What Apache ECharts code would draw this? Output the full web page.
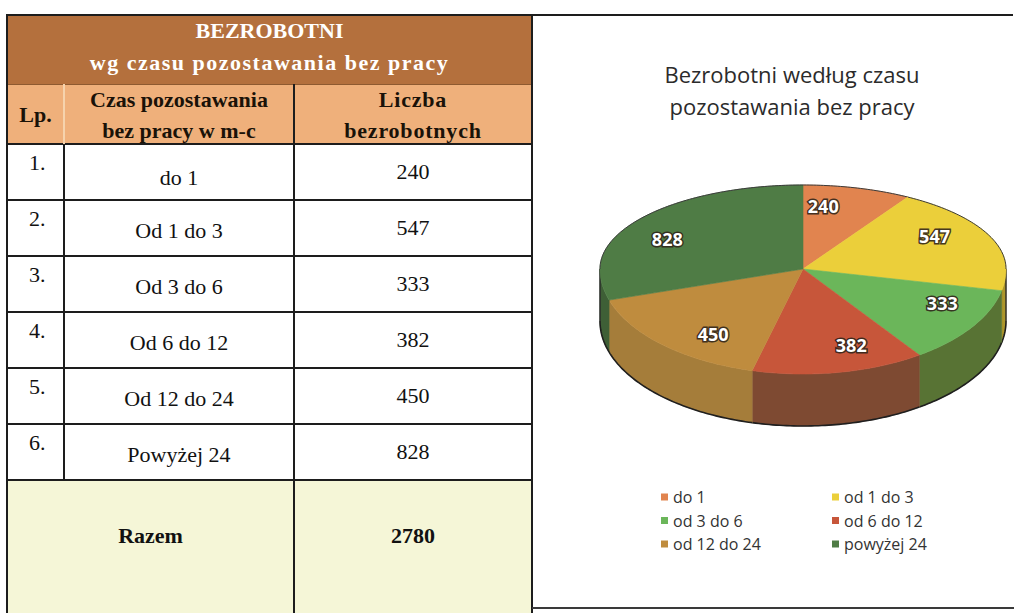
<!DOCTYPE html>
<html lang="pl">
<head>
<meta charset="utf-8">
<title>Bezrobotni według czasu pozostawania bez pracy</title>
<script src="https://cdn.jsdelivr.net/npm/echarts@6/dist/echarts.min.js"></script>
<style>
  html, body { margin: 0; padding: 0; background: #ffffff; overflow: hidden; }
  #chart { position: absolute; left: 0; top: 0; width: 1014px; height: 613px; }
  #table { position: absolute; left: 0; top: 0; width: 1014px; height: 613px;
           font-family: "Liberation Serif", "Times New Roman", serif; color: #111; }
  .cell { position: absolute; box-sizing: border-box; display: flex; align-items: center;
          justify-content: center; text-align: center; font-size: 22px; line-height: 31px; }
  .line { position: absolute; background: #1d1d1d; }
</style>
</head>
<body>
<div id="chart"></div>
<div id="table"></div>
<script>
// Bezrobotni wg czasu pozostawania bez pracy (w miesiącach)
const lpLabels = ['1.', '2.', '3.', '4.', '5.', '6.'];
const tableCategories = ['do 1', 'Od 1 do 3', 'Od 3 do 6', 'Od 6 do 12', 'Od 12 do 24', 'Powyżej 24'];
const legendCategories = ['do 1', 'od 1 do 3', 'od 3 do 6', 'od 6 do 12', 'od 12 do 24', 'powyżej 24'];
const unemployed = [240, 547, 333, 382, 450, 828];
const tableTitle = ['BEZROBOTNI', 'wg czasu pozostawania bez pracy'];
const tableHeaders = ['Lp.', 'Czas pozostawania<br>bez pracy w m-c', 'Liczba<br>bezrobotnych'];
const totalLabel = 'Razem';
const chartTitle = 'Bezrobotni według czasu\npozostawania bez pracy';

const total = unemployed.reduce((a, b) => a + b, 0);

// ---------- table ----------
const tableEl = document.getElementById('table');
const COLX = [7, 64, 294, 532];
const TOP = 15, H_TITLE = 69, H_HEAD = 60, H_ROW = 56;
const yHead = TOP + H_TITLE, yBody = yHead + H_HEAD;
const yTotal = yBody + H_ROW * unemployed.length;

function cell(x0, x1, y0, y1, html, css) {
  const d = document.createElement('div');
  d.className = 'cell';
  d.style.left = x0 + 'px'; d.style.top = y0 + 'px';
  d.style.width = (x1 - x0) + 'px'; d.style.height = (y1 - y0) + 'px';
  if (css) Object.assign(d.style, css);
  d.innerHTML = html;
  tableEl.appendChild(d);
  return d;
}
function line(x, y, w, h, color) {
  const d = document.createElement('div');
  d.className = 'line';
  d.style.left = x + 'px'; d.style.top = y + 'px';
  d.style.width = w + 'px'; d.style.height = h + 'px';
  if (color) d.style.background = color;
  tableEl.appendChild(d);
}

// title band
cell(COLX[0], COLX[3], TOP, yHead,
  '<div><div>' + tableTitle[0] + '</div><div style="letter-spacing:1.5px">' + tableTitle[1] + '</div></div>',
  { background: '#b4703d', color: '#ffffff', fontWeight: 'bold', lineHeight: '32px', paddingBottom: '6px' });
// column headers
const headStyle = { background: '#efb07b', color: '#1a1208', fontWeight: 'bold' };
cell(COLX[0], COLX[1], yHead, yBody, tableHeaders[0], headStyle);
cell(COLX[1], COLX[2], yHead, yBody, tableHeaders[1], Object.assign({ paddingTop: '2px' }, headStyle));
cell(COLX[2], COLX[3], yHead, yBody, tableHeaders[2], Object.assign({ paddingTop: '2px', letterSpacing: '0.8px' }, headStyle));
// data rows
unemployed.forEach((v, i) => {
  const y0 = yBody + i * H_ROW, y1 = y0 + H_ROW;
  cell(COLX[0], COLX[1], y0, y1, lpLabels[i],
    { alignItems: 'flex-start', justifyContent: 'flex-start', paddingLeft: '22px', paddingTop: '7px', lineHeight: '24px' });
  cell(COLX[1], COLX[2], y0, y1, tableCategories[i], { paddingTop: i === 0 ? '10px' : '4px' });
  cell(COLX[2], COLX[3], y0, y1, String(v), { paddingBottom: '2px' });
});
// total row
const totalStyle = { background: '#f5f6d7', fontWeight: 'bold', alignItems: 'flex-start', paddingTop: '41px', lineHeight: '30px' };
cell(COLX[0], COLX[2], yTotal, 660, totalLabel, totalStyle);
cell(COLX[2], COLX[3], yTotal, 660, String(total), totalStyle);

// grid lines
line(COLX[0] - 1, TOP - 1, 1014 - COLX[0], 2);                       // top edge, across the page
line(COLX[0] - 1, yHead, COLX[3] - COLX[0] + 2, 1, '#8e5a30');        // title / header boundary
for (let r = 0; r <= unemployed.length; r++) {
  line(COLX[0] - 1, yBody + r * H_ROW - 1, COLX[3] - COLX[0] + 2, 2);
}
line(COLX[0] - 1, TOP - 1, 2, 620);                                   // left edge
line(COLX[3] - 1, TOP - 1, 2, 620);                                   // right edge of table
line(COLX[1] - 1, yHead, 2, H_HEAD, '#f6d3ad');                       // light divider in header
line(COLX[1] - 1, yBody, 2, yTotal - yBody);
line(COLX[2] - 1, yHead, 2, 620);
line(COLX[3], 607, 1014 - COLX[3], 2, '#3a3a3a');                    // bottom edge of chart panel

// ---------- 3D pie ----------
const topColors  = ['#e1844f', '#ebcf3a', '#6bb65a', '#c7563a', '#bf8c3e', '#4f7c45'];
const sideColors = ['#a9603a', '#ad972c', '#587334', '#7e4a32', '#a57d3a', '#3e5f36'];

const CX = 803, CY = 269, RX = 203, RY_BACK = 84, RY_FRONT = 105, DEPTH = 52;
const TAU = Math.PI * 2, DEG = Math.PI / 180;

const startAngle = [];
unemployed.reduce((acc, v) => { startAngle.push(acc / total * TAU); return acc + v; }, 0);

// angle measured clockwise from 12 o'clock; the near half of the ellipse is drawn taller
function rimPoint(t, dy, k) {
  const s = Math.sin(t), c = Math.cos(t), f = k == null ? 1 : k;
  return [CX + RX * f * s, CY - (c >= 0 ? RY_BACK : RY_FRONT) * f * c + (dy || 0)];
}
function arcPoints(a0, a1, dy) {
  const n = Math.max(2, Math.ceil((a1 - a0) / DEG));
  const pts = [];
  for (let j = 0; j <= n; j++) pts.push(rimPoint(a0 + (a1 - a0) * j / n, dy));
  return pts;
}

function sliceRenderer(i) {
  return function (params, api) {
    const v = api.value(0);
    const a0 = startAngle[i];
    const a1 = a0 + v / total * TAU;
    const children = [];

    // visible outer wall (front half of the disc)
    const lo = Math.max(a0, Math.PI / 2), hi = Math.min(a1, Math.PI * 1.5);
    if (hi > lo) {
      const upper = arcPoints(lo, hi, 0);
      const lower = arcPoints(lo, hi, DEPTH);
      children.push({ type: 'polygon', shape: { points: upper.concat(lower.slice().reverse()) },
        style: { fill: sideColors[i], stroke: sideColors[i], lineWidth: 0.6 } });
      children.push({ type: 'polyline', shape: { points: lower },
        style: { fill: null, stroke: '#1f1f1f', lineWidth: 1.6 } });
      if (lo === Math.PI / 2 || hi === Math.PI * 1.5) {
        const t = lo === Math.PI / 2 ? lo : hi;
        children.push({ type: 'polyline', shape: { points: [rimPoint(t, 0), rimPoint(t, DEPTH)] },
          style: { fill: null, stroke: '#2a2a2a', lineWidth: 1.4 } });
      }
    }

    // top face
    children.push({ type: 'polygon', shape: { points: [[CX, CY]].concat(arcPoints(a0, a1, 0)) },
      style: { fill: topColors[i], stroke: topColors[i], lineWidth: 0.6 } });

    // thin dark edge on the far rim
    const backRanges = [[a0, Math.min(a1, Math.PI / 2)], [Math.max(a0, Math.PI * 1.5), a1]];
    backRanges.forEach(([b0, b1]) => {
      if (b1 > b0) {
        children.push({ type: 'polyline', shape: { points: arcPoints(b0, b1, 0) },
          style: { fill: null, stroke: '#3b3b3b', lineWidth: 1 } });
      }
    });

    // value label
    const mid = (a0 + a1) / 2 - 8 * DEG;
    const p = rimPoint(mid, 0, 0.76);
    children.push({ type: 'text', x: p[0], y: p[1],
      style: { text: String(v), fill: '#ffffff', align: 'center', verticalAlign: 'middle',
        font: 'bold 18px "Open Sans", sans-serif', stroke: 'rgba(48,36,26,0.9)', lineWidth: 3 } });

    return { type: 'group', children: children };
  };
}

const series = unemployed.map((v, i) => ({
  type: 'custom',
  name: legendCategories[i],
  coordinateSystem: 'none',
  data: [[v]],
  itemStyle: { color: topColors[i] },
  renderItem: sliceRenderer(i),
  silent: true
}));

const legendCommon = {
  orient: 'vertical', top: 489, itemWidth: 7, itemHeight: 7, itemGap: 7.5,
  icon: 'rect', selectedMode: false, padding: 0,
  textStyle: { fontFamily: '"Open Sans", sans-serif', fontSize: 16, color: '#333333', padding: [0, 0, 0, 0] }
};

const chart = echarts.init(document.getElementById('chart'), null, { renderer: 'svg' });
chart.setOption({
  animation: false,
  backgroundColor: 'transparent',
  title: {
    text: chartTitle, left: 792, top: 58, textAlign: 'center', textVerticalAlign: 'top', padding: 0,
    textStyle: { fontFamily: '"Open Sans", sans-serif', fontSize: 22, fontWeight: 'normal',
      color: '#2b2b2b', lineHeight: 32 }
  },
  legend: [
    Object.assign({ left: 661, data: [legendCategories[0], legendCategories[2], legendCategories[4]] }, legendCommon),
    Object.assign({ left: 832, data: [legendCategories[1], legendCategories[3], legendCategories[5]] }, legendCommon)
  ],
  series: series
});
</script>
</body>
</html>
